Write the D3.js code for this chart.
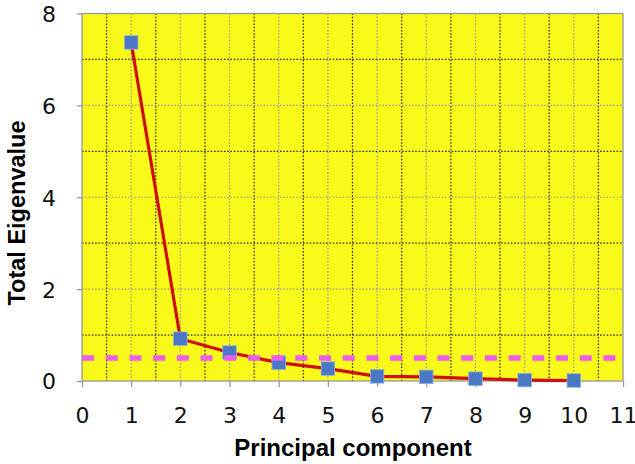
<!DOCTYPE html>
<html>
<head>
<meta charset="utf-8">
<script src="https://cdn.jsdelivr.net/npm/d3@7"></script>
<style>
  body { margin: 0; background: #fff; }
  svg { display: block; }
</style>
</head>
<body>
<svg id="chart" width="635" height="464"></svg>
<script>
// Scree plot values
const components = [1, 2, 3, 4, 5, 6, 7, 8, 9, 10];
const eigenvalues = [7.37, 0.92, 0.62, 0.40, 0.27, 0.10, 0.09, 0.05, 0.02, 0.01];
const cutoff = 0.5;
const xTicks = [0, 1, 2, 3, 4, 5, 6, 7, 8, 9, 10, 11];
const yTicks = [0, 2, 4, 6, 8];
const xMinor = [0.5, 1.5, 2.5, 3.5, 4.5, 5.5, 6.5, 7.5, 8.5, 9.5, 10.5];
const yMinor = [1, 3, 5, 7];

const margin = { top: 13.5, right: 12, bottom: 83, left: 82 };
const W = 635, H = 464;
const svg = d3.select("#chart");

const x = d3.scaleLinear().domain([0, 11]).range([margin.left, W - margin.right]);
const y = d3.scaleLinear().domain([0, 8]).range([H - margin.bottom, margin.top]);

// plot background
svg.append("rect")
  .attr("x", x(0)).attr("y", y(8))
  .attr("width", x(11) - x(0)).attr("height", y(0) - y(8))
  .attr("fill", "#f9f91a");

const grid = svg.append("g");

// minor grid (black dotted)
grid.selectAll(".vminor").data(xMinor).join("line")
  .attr("x1", d => x(d)).attr("x2", d => x(d))
  .attr("y1", y(8)).attr("y2", y(0))
  .attr("stroke", "#222").attr("stroke-width", 1.2)
  .attr("stroke-dasharray", "1.5,1.8");
grid.selectAll(".hminor").data(yMinor).join("line")
  .attr("y1", d => y(d)).attr("y2", d => y(d))
  .attr("x1", x(0)).attr("x2", x(11))
  .attr("stroke", "#222").attr("stroke-width", 1.2)
  .attr("stroke-dasharray", "1.5,1.8");

// major grid (gray dotted)
grid.selectAll(".vmajor").data(xTicks.slice(1, -1)).join("line")
  .attr("x1", d => x(d)).attr("x2", d => x(d))
  .attr("y1", y(8)).attr("y2", y(0))
  .attr("stroke", "#9a9a9a").attr("stroke-width", 1.2)
  .attr("stroke-dasharray", "1.5,1.8");
grid.selectAll(".hmajor").data(yTicks.slice(1, -1)).join("line")
  .attr("y1", d => y(d)).attr("y2", d => y(d))
  .attr("x1", x(0)).attr("x2", x(11))
  .attr("stroke", "#9a9a9a").attr("stroke-width", 1.2)
  .attr("stroke-dasharray", "1.5,1.8");

// plot border
svg.append("rect")
  .attr("x", x(0)).attr("y", y(8))
  .attr("width", x(11) - x(0)).attr("height", y(0) - y(8))
  .attr("fill", "none").attr("stroke", "#999").attr("stroke-width", 1.3);

// axes
const xAxis = svg.append("g")
  .attr("transform", `translate(0,${y(0)})`)
  .call(d3.axisBottom(x).tickValues(xTicks).tickSize(6).tickPadding(20));
const yAxis = svg.append("g")
  .attr("transform", `translate(${x(0)},0)`)
  .call(d3.axisLeft(y).tickValues(yTicks).tickSize(5).tickPadding(21));

[xAxis, yAxis].forEach(a => {
  a.select(".domain").remove();
  a.selectAll(".tick line").attr("stroke", "#999").attr("stroke-width", 1.3);
  a.selectAll(".tick text")
    .attr("fill", "#111")
    .style("font-family", "'DejaVu Sans', sans-serif")
    .style("font-size", "22px");
});
yAxis.selectAll(".tick text").attr("dy", "0.36em");

// scree line
const line = d3.line()
  .x((d, i) => x(components[i]))
  .y(d => y(d));

svg.append("path")
  .datum(eigenvalues)
  .attr("d", line)
  .attr("fill", "none")
  .attr("stroke", "#cc1010")
  .attr("stroke-width", 3.2)
  .attr("stroke-linejoin", "round");

// markers
const s = 13.5;
svg.selectAll(".pt").data(eigenvalues).join("rect")
  .attr("x", (d, i) => x(components[i]) - s / 2)
  .attr("y", d => y(d) - s / 2)
  .attr("width", s).attr("height", s)
  .attr("fill", "#4a78c4")
  .attr("stroke", "#8fb0e0").attr("stroke-width", 0.8);

// cutoff line
svg.append("line")
  .attr("x1", x(0)).attr("x2", x(11))
  .attr("y1", y(cutoff)).attr("y2", y(cutoff))
  .attr("stroke", "#ee5cee").attr("stroke-width", 5.5)
  .attr("stroke-dasharray", "12,11.7");

// axis titles
svg.append("text")
  .attr("x", 353)
  .attr("y", 456)
  .attr("text-anchor", "middle")
  .style("font-family", "'Liberation Sans', Arial, sans-serif")
  .style("font-weight", "bold")
  .style("font-size", "24px")
  .attr("fill", "#000")
  .text("Principal component");

svg.append("text")
  .attr("transform", `translate(25,213) rotate(-90)`)
  .attr("text-anchor", "middle")
  .style("font-family", "'Liberation Sans', Arial, sans-serif")
  .style("font-weight", "bold")
  .style("font-size", "23.5px")
  .attr("fill", "#000")
  .text("Total Eigenvalue");
</script>
</body>
</html>
